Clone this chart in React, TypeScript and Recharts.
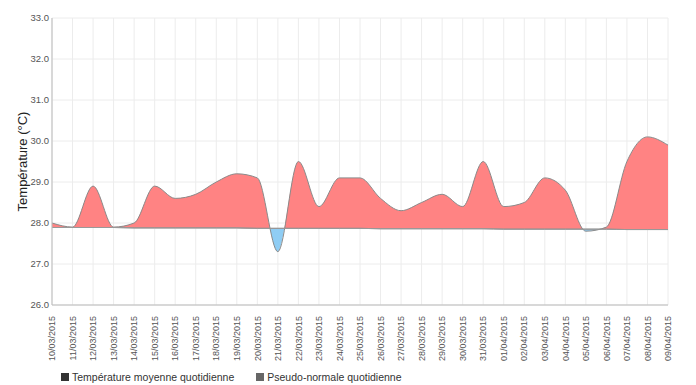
import { Area, CartesianGrid, ComposedChart, Line, XAxis, YAxis } from "recharts";

const dates = [
  "10/03/2015", "11/03/2015", "12/03/2015", "13/03/2015", "14/03/2015", "15/03/2015",
  "16/03/2015", "17/03/2015", "18/03/2015", "19/03/2015", "20/03/2015", "21/03/2015",
  "22/03/2015", "23/03/2015", "24/03/2015", "25/03/2015", "26/03/2015", "27/03/2015",
  "28/03/2015", "29/03/2015", "30/03/2015", "31/03/2015", "01/04/2015", "02/04/2015",
  "03/04/2015", "04/04/2015", "05/04/2015", "06/04/2015", "07/04/2015", "08/04/2015",
  "09/04/2015",
];

const meanTemp = [
  28.0, 27.9, 28.9, 27.9, 28.0, 28.9, 28.6, 28.7, 29.0, 29.2, 29.1, 27.3,
  29.5, 28.4, 29.1, 29.1, 28.6, 28.3, 28.5, 28.7, 28.4, 29.5, 28.4, 28.5,
  29.1, 28.8, 27.8, 27.9, 29.5, 30.1, 29.9,
];

const normal = [
  27.89, 27.89, 27.89, 27.89, 27.88, 27.88, 27.88, 27.88, 27.88, 27.88, 27.87, 27.87,
  27.87, 27.87, 27.87, 27.87, 27.86, 27.86, 27.86, 27.86, 27.86, 27.86, 27.85, 27.85,
  27.85, 27.85, 27.85, 27.85, 27.84, 27.84, 27.84,
];

const yTicks = [26, 27, 28, 29, 30, 31, 32, 33];

const data = dates.map((date, i) => ({
  date,
  normal: normal[i],
  range: [normal[i], meanTemp[i]],
}));

// split the fill colour at the normal line (monotone curve: extremes sit on the points)
const threshold = 27.865;
const top = Math.max(...meanTemp, ...normal);
const bottom = Math.min(...meanTemp, ...normal);
const splitOffset = (top - threshold) / (top - bottom);

const DateTick = (props: any) => {
  const { x, y, payload } = props;
  return (
    <text
      x={0}
      y={0}
      transform={`translate(${x + 3.2},${y + 3}) rotate(-90)`}
      textAnchor="end"
      fontSize={9}
      fill="#555"
    >
      {payload.value}
    </text>
  );
};

export default function App() {
  return (
    <div style={{ position: "absolute", left: 0, top: 0, width: 696, height: 385, fontFamily: "Arial, 'Liberation Sans', sans-serif" }}>
      <ComposedChart width={696} height={385} data={data} margin={{ top: 18, right: 28, bottom: 0, left: 12 }}>
        <defs>
          <linearGradient id="split" x1="0" y1="0" x2="0" y2="1">
            <stop offset={splitOffset} stopColor="#ff8383" />
            <stop offset={splitOffset} stopColor="#8fcdf4" />
          </linearGradient>
        </defs>
        <CartesianGrid stroke="#ececec" />
        <XAxis
          dataKey="date"
          interval={0}
          tick={<DateTick />}
          tickLine={false}
          axisLine={{ stroke: "#bbb" }}
          height={80}
        />
        <YAxis
          domain={[26, 33]}
          ticks={yTicks}
          tickFormatter={(v) => Number(v).toFixed(1)}
          tick={{ fontSize: 9.5, fill: "#555" }}
          tickLine={false}
          tickSize={2}
          tickMargin={1}
          axisLine={{ stroke: "#bbb" }}
          width={40}
          label={{
            value: "Température (°C)",
            angle: -90,
            position: "insideLeft",
            offset: 10,
            style: { textAnchor: "middle", fontSize: 13, fill: "#222" },
          }}
        />
        <YAxis yAxisId="r" orientation="right" domain={[26, 33]} tick={false} tickLine={false} width={0} axisLine={{ stroke: "#bbb" }} />
        <Area
          type="monotone"
          dataKey="range"
          fill="url(#split)"
          fillOpacity={1}
          stroke="#8a8a8a"
          strokeWidth={1}
          isAnimationActive={false}
          activeDot={false}
        />
        <Line
          type="monotone"
          dataKey="normal"
          stroke="#999"
          strokeWidth={1}
          dot={false}
          activeDot={false}
          isAnimationActive={false}
        />
      </ComposedChart>
      <div style={{ position: "absolute", left: 61, top: 371, display: "flex", alignItems: "center", fontSize: 10.5, color: "#333" }}>
        <span style={{ width: 8, height: 8, background: "#333", marginRight: 3 }} />
        <span style={{ marginRight: 22 }}>Température moyenne quotidienne</span>
        <span style={{ width: 8, height: 8, background: "#666", marginRight: 3 }} />
        <span>Pseudo-normale quotidienne</span>
      </div>
    </div>
  );
}
